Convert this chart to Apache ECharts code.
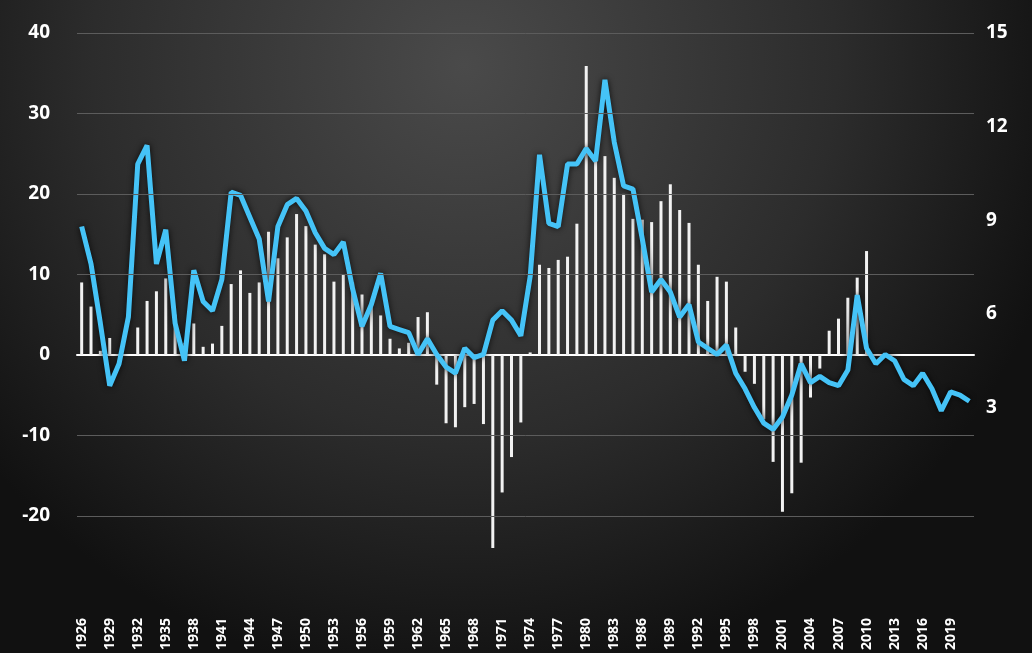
<!DOCTYPE html>
<html>
<head>
<meta charset="utf-8">
<script src="https://cdn.jsdelivr.net/npm/echarts@6/dist/echarts.min.js"></script>
<style>
  html, body { margin: 0; padding: 0; background: #1a1a1a; }
  #chart { width: 1032px; height: 653px; }
</style>
</head>
<body>
<div id="chart"></div>
<script>
const years = [];
for (let y = 1926; y <= 2021; y++) years.push(String(y));

// bar values (left axis), 1926-2021
const bars = [
  9.0, 6.0, 0.5, 2.1, 0.0, 0.0, 3.4, 6.7, 7.9, 9.5,
  5.0, 1.5, 3.9, 1.0, 1.4, 3.6, 8.8, 10.5, 7.7, 9.0,
  15.3, 12.0, 14.6, 17.5, 16.0, 13.7, 12.5, 9.1, 10.0, 9.0,
  7.5, 6.0, 4.9, 2.0, 0.8, 1.5, 4.7, 5.3, -3.7, -8.5,
  -9.0, -6.5, -6.1, -8.6, -25.0, -17.1, -12.7, -8.4, 0.3, 11.2,
  10.8, 11.8, 12.2, 16.3, 35.9, 25.0, 24.7, 22.0, 20.0, 16.9,
  16.8, 16.5, 19.1, 21.2, 18.0, 16.4, 11.2, 6.7, 9.7, 9.1,
  3.4, -2.1, -3.6, -8.0, -13.3, -19.5, -17.2, -13.4, -5.3, -1.7,
  3.0, 4.5, 7.1, 9.6, 12.9, 0, 0, 0, 0, 0,
  0, 0, 0, 0, 0, 0
];

// line values (right axis), 1926-2021
const line = [
  8.8, 7.6, 5.7, 3.7, 4.4, 5.9, 10.8, 11.4, 7.6, 8.7,
  5.7, 4.5, 7.4, 6.4, 6.1, 7.1, 9.9, 9.8, 9.1, 8.4,
  6.4, 8.8, 9.5, 9.7, 9.3, 8.6, 8.1, 7.9, 8.3, 6.8,
  5.6, 6.3, 7.3, 5.6, 5.5, 5.4, 4.7, 5.2, 4.7, 4.3,
  4.1, 4.9, 4.6, 4.7, 5.8, 6.1, 5.8, 5.3, 7.2, 11.1,
  8.9, 8.8, 10.8, 10.8, 11.3, 10.9, 13.5, 11.5, 10.1, 10.0,
  8.4, 6.7, 7.1, 6.7, 5.9, 6.3, 5.1, 4.9, 4.7, 5.0,
  4.1, 3.6, 3.0, 2.5, 2.3, 2.7, 3.4, 4.4, 3.8, 4.0,
  3.8, 3.7, 4.2, 6.6, 4.9, 4.4, 4.7, 4.5, 3.9, 3.7,
  4.1, 3.6, 2.9, 3.5, 3.4, 3.2
];

const leftTicks = [-20, -10, 0, 10, 20, 30, 40];
const gridTicks = [-20, -10, 10, 20, 30, 40];
const rightTicks = [3, 6, 9, 12, 15];

const chart = echarts.init(document.getElementById('chart'));
const lbl = { color: '#ffffff', fontSize: 19, fontWeight: 'bold', fontFamily: 'Open Sans' };

chart.setOption({
  animation: false,
  backgroundColor: {
    type: 'radial', x: 0.45, y: 0.1, r: 0.95,
    colorStops: [{ offset: 0, color: '#4a4a4a' }, { offset: 0.6, color: '#2c2c2c' }, { offset: 1, color: '#111111' }]
  },
  grid: { left: 77, right: 58, top: 33, bottom: 0 },
  xAxis: {
    type: 'category', data: years,
    axisLine: { onZero: true, lineStyle: { color: '#ffffff', width: 2 } },
    axisTick: { show: false },
    axisLabel: { interval: 2, rotate: 90, margin: 70, color: '#ffffff', fontSize: 14, fontWeight: 'bold', fontFamily: 'Open Sans' }
  },
  yAxis: [
    {
      type: 'value', min: -24, max: 40,
      axisLine: { show: false }, axisTick: { show: false }, splitLine: { show: false },
      axisLabel: Object.assign({ margin: 27, customValues: leftTicks }, lbl)
    },
    {
      type: 'value', min: -1.5, max: 15,
      axisLine: { show: false }, axisTick: { show: false }, splitLine: { show: false },
      axisLabel: Object.assign({ margin: 12, customValues: rightTicks }, lbl)
    }
  ],
  series: [
    {
      name: 'bars', type: 'bar', data: bars, barWidth: 3,
      itemStyle: { color: '#f2f2f2' },
      markLine: {
        silent: true, symbol: 'none', label: { show: false },
        lineStyle: { color: '#5c5c5c', width: 1, type: 'solid' },
        data: gridTicks.map(v => ({ yAxis: v }))
      }
    },
    {
      name: 'line', type: 'line', yAxisIndex: 1, data: line, symbol: 'none',
      lineStyle: { color: '#45c3f7', width: 5, shadowColor: 'rgba(0,0,0,0.8)', shadowBlur: 6 }
    }
  ]
});
</script>
</body>
</html>
